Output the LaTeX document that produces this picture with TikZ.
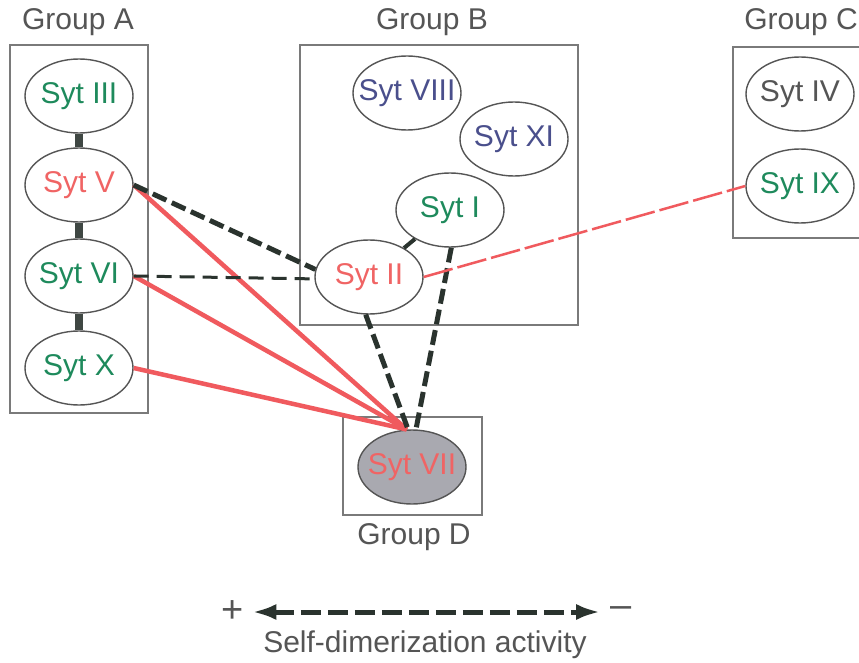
\documentclass[tikz,border=0pt]{standalone}
\usepackage{fontspec}
\setmainfont{Liberation Sans}
\usetikzlibrary{arrows.meta,shapes.geometric}
\definecolor{sytgreen}{HTML}{1E8A5C}
\definecolor{sytred}{HTML}{F06464}
\definecolor{sytblue}{HTML}{4A4F8C}
\definecolor{sytgray}{HTML}{555555}
\definecolor{linkdark}{HTML}{2A332E}
\definecolor{linkred}{HTML}{F05A5E}
\definecolor{boxgray}{HTML}{7A7A7A}
\definecolor{vfill}{HTML}{A9A9B0}
% zero-width label so the ellipse keeps its fixed size
\newcommand\sytname[1]{\makebox[0pt]{#1}}
\tikzset{
  syt/.style={ellipse, draw=sytgray, line width=1.4pt, minimum width=108pt,
    minimum height=74pt, inner sep=0pt, font=\fontsize{30}{34}\selectfont},
  groupbox/.style={draw=boxgray, line width=1.2pt},
  grouplabel/.style={text=sytgray, font=\fontsize{30}{34}\selectfont},
  bond/.style={draw=linkdark!90!white, line width=8pt},
  strongdash/.style={draw=linkdark, line width=5pt, dash pattern=on 15pt off 6pt},
  weakdash/.style={draw=linkdark, line width=3pt, dash pattern=on 15pt off 8pt},
  redlink/.style={draw=linkred, line width=4.5pt},
  reddash/.style={draw=linkred, line width=2.5pt, dash pattern=on 30pt off 5pt},
}
\begin{document}
\begin{tikzpicture}[x=1pt,y=-1pt]
\useasboundingbox (0,0) rectangle (859,663);
\fill[white] (0,0) rectangle (859,663);

% group frames
\draw[groupbox] (10,45) rectangle (148,413);
\draw[groupbox] (300,45) rectangle (578,325);
\draw[groupbox] (733,47) rectangle (875,238);
\draw[groupbox] (343,417) rectangle (482,515);

\node[grouplabel] (ga) at (78,22) {Group A};
\node[grouplabel] (gb) at (432,22) {Group B};
\node[grouplabel] (gc) at (801,22) {Group C};
\node[grouplabel] (gd) at (414,537) {Group D};

% group A
\node[syt, text=sytgreen] (s3) at (79,96) {\sytname{Syt III}};
\node[syt, text=sytred] (s5) at (79,185) {\sytname{Syt V}};
\node[syt, text=sytgreen] (s6) at (79,276) {\sytname{Syt VI}};
\node[syt, text=sytgreen] (s10) at (79,368) {\sytname{Syt X}};

% group B
\node[syt, text=sytblue] (s8) at (407,93) {\sytname{Syt VIII}};
\node[syt, text=sytblue] (s11) at (514,139) {\sytname{Syt XI}};
\node[syt, text=sytgreen] (s1) at (450,210) {\sytname{Syt I}};
\node[syt, text=sytred] (s2) at (369,277) {\sytname{Syt II}};

% group C
\node[syt, text=sytgray] (s4) at (800,94) {\sytname{Syt IV}};
\node[syt, text=sytgreen] (s9) at (800,186) {\sytname{Syt IX}};

% group D
\node[syt, fill=vfill, text=sytred] (s7) at (412,467) {\sytname{Syt VII}};

% bonds inside group A and B
\draw[bond] (s3) -- (s5);
\draw[bond] (s5) -- (s6);
\draw[bond] (s6) -- (s10);
\draw[draw=linkdark, line width=4pt] (s2) -- (s1);

% links between groups
\draw[redlink] (s5.east) -- (s7.98);
\draw[redlink] (s6.east) -- (s7.98);
\draw[redlink] (s10.east) -- (s7.98);
\draw[strongdash] (s5.east) -- (s2.172);
\draw[weakdash] (s6.east) -- (s2.182);
\draw[strongdash] (s2.-95) -- (s7.96);
\draw[strongdash] (s1.-88) -- (s7.84);
\draw[reddash] (s2.east) -- (s9.west);

% activity scale
\node[text=sytgray, inner sep=0pt, font=\fontsize{38}{40}\selectfont] (plus) at (233,612) {+};
\node[text=sytgray, inner sep=0pt, font=\fontsize{38}{40}\selectfont] (minus) at (621,612) {–};
\draw[draw=linkdark, line width=5pt, dash pattern=on 20pt off 7pt,
  {Latex[length=24pt,width=16pt]}-{Latex[length=24pt,width=16pt]},
  shorten <=8pt, shorten >=10pt]
  (plus) -- (minus);
\node[grouplabel] (act) at (425,645) {Self-dimerization activity};
\end{tikzpicture}
\end{document}
